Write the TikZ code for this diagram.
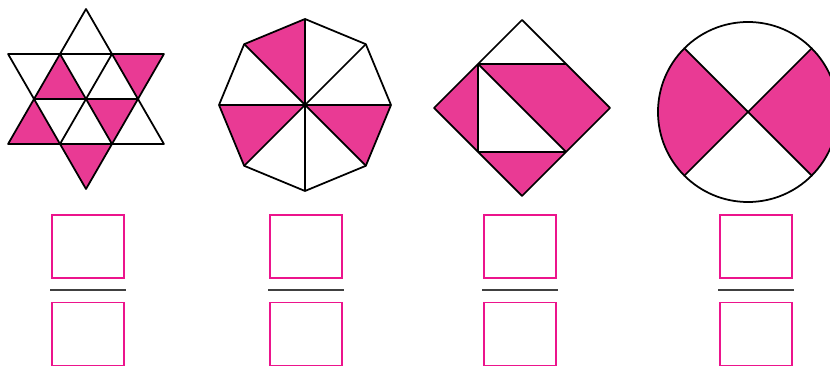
\documentclass[tikz,border=0pt]{standalone}
\usetikzlibrary{positioning,calc}
\definecolor{fracpink}{RGB}{233,58,148}
\definecolor{fracmagenta}{RGB}{236,20,140}
\definecolor{fracgray}{gray}{0.25}
\begin{document}
\begin{tikzpicture}[x=0.03cm,y=0.03cm,node distance=0.69cm,
  part/.style={fill=fracpink},
  edge/.style={line width=1.5pt,line join=round},
  numbox/.style={draw=fracmagenta,line width=1.1pt,minimum width=2.16cm,
                 minimum height=1.89cm,inner sep=0pt},
  bar/.style={draw=fracgray,line width=1.2pt}]
\useasboundingbox (0,0) rectangle (830,368);
% star
\begin{scope}[shift={(86,269)}]
\fill[part] (30:90)--(0:52)--(60:52)--cycle (210:90)--(180:52)--(240:52)--cycle
  (270:90)--(240:52)--(300:52)--cycle (0,0)--(120:52)--(180:52)--cycle
  (0,0)--(300:52)--(0:52)--cycle;
\draw[edge] (90:90)--(210:90)--(330:90)--cycle (30:90)--(150:90)--(270:90)--cycle;
\foreach \a in {0,60,120} \draw[edge] (\a:52)--(\a+180:52);
\end{scope}
% octagon
\begin{scope}[shift={(305,263)}]
\foreach \a in {90,180,315} \fill[part] (0,0)--(\a:86)--(\a+45:86)--cycle;
\draw[edge] (0:86)--(45:86)--(90:86)--(135:86)--(180:86)--(225:86)--(270:86)--(315:86)--cycle;
\foreach \a in {0,45,90,135} \draw[edge] (\a:86)--(\a+180:86);
\end{scope}
% square
\begin{scope}[shift={(522,260)}]
\coordinate (t) at (0,88); \coordinate (l) at (-88,0);
\coordinate (r) at (88,0); \coordinate (b) at (0,-88);
\coordinate (tl) at (-44,44); \coordinate (tr) at (44,44);
\coordinate (bl) at (-44,-44); \coordinate (br) at (44,-44);
\fill[part] (tl)--(l)--(bl)--cycle (bl)--(b)--(br)--cycle (tl)--(tr)--(r)--(br)--cycle;
\draw[edge] (t)--(r)--(b)--(l)--cycle (tl)--(tr) (tl)--(bl)--(br)--cycle;
\end{scope}
% circle
\begin{scope}[shift={(748,256)}]
\fill[part] (0,0)--(135:90) arc[start angle=135,end angle=225,radius=90]--cycle;
\fill[part] (0,0)--(-45:90) arc[start angle=-45,end angle=45,radius=90]--cycle;
\draw[edge] (0,0) circle[radius=90];
\draw[edge] (45:90)--(225:90) (135:90)--(315:90);
\end{scope}
% fractions
\foreach \x [count=\i] in {88,306,520,756} {
  \node[numbox] (num\i) at (\x,121.5) {};
  \node[numbox,below=of num\i] (den\i) {};
  \coordinate (bar\i) at ($(num\i.south)!.5!(den\i.north)$);
  \draw[bar] ($(bar\i)+(-38,0)$) -- ($(bar\i)+(38,0)$);
}
\end{tikzpicture}
\end{document}
